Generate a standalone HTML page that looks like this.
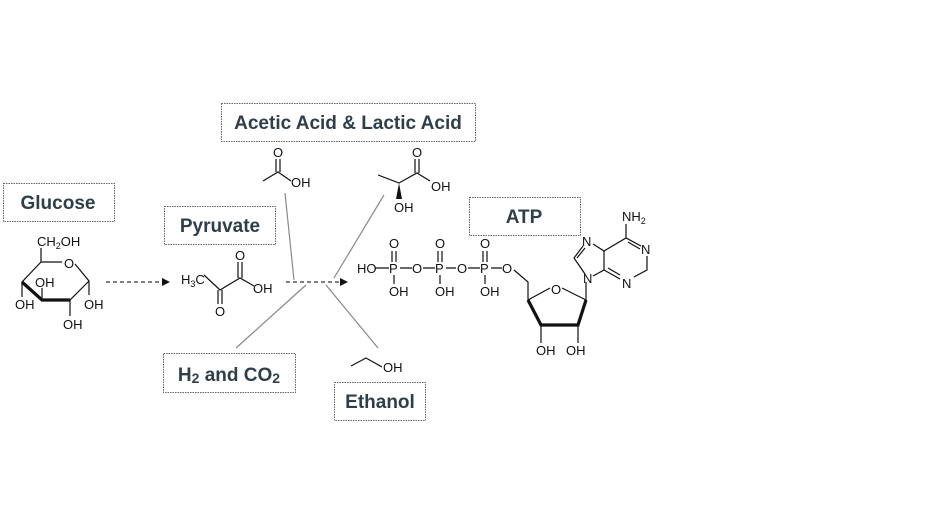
<!DOCTYPE html>
<html><head><meta charset="utf-8"><style>
html,body{margin:0;padding:0;background:#fff;}
svg{display:block;}
.lbl{font-family:"Liberation Sans",sans-serif;font-weight:bold;font-size:19px;fill:#2f3f4a;}
.ch{font-family:"Liberation Sans",sans-serif;font-size:13px;fill:#111;}
.b{fill:#fff;stroke:#666;stroke-width:1;stroke-dasharray:1.5 1;}
.bd{stroke:#111;stroke-width:1.2;fill:none;}
.gl{stroke:#888;stroke-width:1.2;}
</style></head><body>
<svg width="940" height="526" viewBox="0 0 940 526" xmlns="http://www.w3.org/2000/svg">
<rect class="b" x="221.5" y="103.5" width="254" height="38"/>
<text class="lbl" x="348" y="129" text-anchor="middle">Acetic Acid &amp; Lactic Acid</text>
<rect class="b" x="3.5" y="183.5" width="111" height="38"/>
<text class="lbl" x="58" y="209" text-anchor="middle">Glucose</text>
<rect class="b" x="164.5" y="206.5" width="111" height="38"/>
<text class="lbl" x="220" y="232" text-anchor="middle">Pyruvate</text>
<rect class="b" x="469.5" y="197.5" width="111" height="38"/>
<text class="lbl" x="524" y="223" text-anchor="middle">ATP</text>
<rect class="b" x="163.5" y="353.5" width="132" height="39"/>
<text class="lbl" x="229" y="381" text-anchor="middle">H<tspan font-size="14" dy="2">2</tspan><tspan dy="-2"> and CO</tspan><tspan font-size="14" dy="2">2</tspan></text>
<rect class="b" x="334.5" y="382.5" width="91" height="38"/>
<text class="lbl" x="380" y="408" text-anchor="middle">Ethanol</text>

<line class="gl" x1="285" y1="193" x2="294" y2="280"/>
<line class="gl" x1="384" y1="195" x2="334" y2="278"/>
<line class="gl" x1="306" y1="285" x2="236" y2="348"/>
<line class="gl" x1="326" y1="285" x2="378" y2="348"/>
<line x1="106" y1="282" x2="162" y2="282" stroke="#333" stroke-width="1.2" stroke-dasharray="4 3"/>
<polygon points="162,278 170,282 162,286" fill="#111"/>
<line x1="286" y1="282" x2="340" y2="282" stroke="#333" stroke-width="1.2" stroke-dasharray="4 3"/>
<polygon points="340,278 348,282 340,286" fill="#111"/>

<text class="ch" x="37" y="246">CH<tspan font-size="9" dy="3">2</tspan><tspan dy="-3">OH</tspan></text>
<path class="bd" d="M41,248 L41,262 L62,262 M75,264 L89,281 L89,295 M89,281 L70,300 L42,300 L22,282 L41,262 M22,282 L22,297 M42,300 L42,288 M70,300 L70,316"/>
<path d="M22,282 L42,300 L70,300" stroke="#111" stroke-width="3.2" fill="none"/>
<text class="ch" x="64" y="268">O</text>
<text class="ch" x="35" y="287">OH</text>
<text class="ch" x="15" y="309">OH</text>
<text class="ch" x="84" y="309">OH</text>
<text class="ch" x="63" y="329">OH</text>

<text class="ch" x="181" y="284">H<tspan font-size="9" dy="3">3</tspan><tspan dy="-3">C</tspan></text>
<path class="bd" d="M204,275 L220,290 L240,278 L254,286 M238,278 L238,262 M242,278 L242,262 M218,290 L218,304 M222,290 L222,304"/>
<text class="ch" x="235" y="260">O</text>
<text class="ch" x="253" y="293">OH</text>
<text class="ch" x="215" y="316">O</text>

<path class="bd" d="M263,181 L278,172 L291,181 M276,172 L276,159 M280,172 L280,159"/>
<text class="ch" x="273" y="157">O</text>
<text class="ch" x="291" y="187">OH</text>

<path class="bd" d="M378,175 L399,183 L417,173 L430,181 M415,173 L415,159 M419,173 L419,159"/>
<polygon points="399,183 396,199 402,199" fill="#111"/>
<text class="ch" x="412" y="157">O</text>
<text class="ch" x="431" y="191">OH</text>
<text class="ch" x="394" y="212">OH</text>

<path class="bd" d="M351,366 L366,358 L382,367"/>
<text class="ch" x="383" y="372">OH</text>

<text class="ch" x="357" y="273">HO</text>
<path class="bd" d="M375,268 L389,268 M400,268 L412,268 M423,268 L435,268 M446,268 L456,268 M468,268 L480,268 M491,268 L502,268"/>
<text class="ch" x="389" y="273">P</text><text class="ch" x="412" y="273">O</text>
<text class="ch" x="435" y="273">P</text><text class="ch" x="457" y="273">O</text>
<text class="ch" x="480" y="273">P</text><text class="ch" x="502" y="273">O</text>
<text class="ch" x="389" y="248">O</text><text class="ch" x="435" y="248">O</text><text class="ch" x="480" y="248">O</text>
<path class="bd" d="M392,251 L392,262 M396,251 L396,262 M438,251 L438,262 M442,251 L442,262 M483,251 L483,262 M487,251 L487,262 M394,275 L394,284 M440,275 L440,284 M485,275 L485,284"/>
<text class="ch" x="389" y="296">OH</text><text class="ch" x="435" y="296">OH</text><text class="ch" x="480" y="296">OH</text>
<path class="bd" d="M514,270 L528,282 L528,300 L550,288 M562,288 L586,300 L578,325 L541,325 L528,300 M541,325 L541,343 M578,325 L578,343 M586,300 L586,282"/>
<path d="M528,300 L541,325 L578,325 L586,300" stroke="#111" stroke-width="3.2" fill="none"/>
<text class="ch" x="551" y="294">O</text>
<text class="ch" x="536" y="355">OH</text><text class="ch" x="566" y="355">OH</text>
<text class="ch" x="583" y="283">N</text>
<text class="ch" x="582" y="246">N</text>
<text class="ch" x="641" y="254">N</text>
<text class="ch" x="622" y="288">N</text>
<text class="ch" x="622" y="221">NH<tspan font-size="9" dy="3">2</tspan></text>
<path class="bd" d="M585,274 L574,258 L583,246 M577,258 L585,248 M593,244 L604,251 L604,270 L593,276 M604,251 L626,238 L641,246 M626,238 L626,224 M628,242 L640,249 M647,256 L647,270 L634,277 M604,270 L620,279 M608,268 L620,275"/>
</svg>
</body></html>
